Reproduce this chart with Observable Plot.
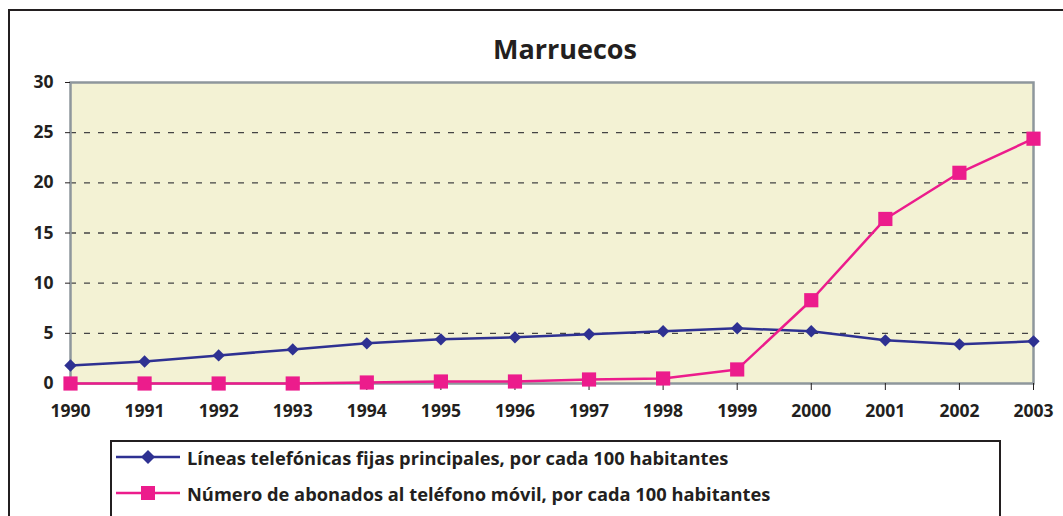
<!DOCTYPE html>
<html>
<head>
<meta charset="utf-8">
<script src="https://cdn.jsdelivr.net/npm/d3@7"></script>
<script src="https://cdn.jsdelivr.net/npm/@observablehq/plot@0.6"></script>
<style>
  html, body { margin: 0; padding: 0; background: #fff; overflow: hidden; }
  #page { position: relative; width: 1063px; height: 516px; overflow: hidden; font-family: "Open Sans", "Noto Sans", sans-serif; color: #231f20; }
  #frame { position: absolute; left: 8px; top: 9px; width: 1200px; height: 700px; border: 2px solid #231f20; box-sizing: border-box; }
  #title { position: absolute; left: 465px; width: 200px; top: 30px; text-align: center; font-weight: 700; font-size: 27px; }
  #chart { position: absolute; left: 0; top: 70px; }
  #legend { position: absolute; left: 110px; top: 440px; width: 891px; height: 78px; border: 2px solid #231f20; box-sizing: border-box; background: #fff; }
  .row { position: absolute; left: 4px; height: 30px; display: flex; align-items: center; font-weight: 700; font-size: 18.3px; white-space: nowrap; }
  .row svg { margin-right: 7px; }
</style>
</head>
<body>
<div id="page">
  <div id="frame"></div>
  <div id="title">Marruecos</div>
  <div id="chart"></div>
  <div id="legend"></div>
</div>
<script>
const years = [1990,1991,1992,1993,1994,1995,1996,1997,1998,1999,2000,2001,2002,2003];
const fijas = [1.8,2.2,2.8,3.4,4.0,4.4,4.6,4.9,5.2,5.5,5.2,4.3,3.9,4.2];
const movil = [0.0,0.0,0.0,0.0,0.1,0.2,0.2,0.4,0.5,1.4,8.3,16.4,21.0,24.4];
const seriesNames = [
  "Líneas telefónicas fijas principales, por cada 100 habitantes",
  "Número de abonados al teléfono móvil, por cada 100 habitantes"
];
const colors = ["#2e3192", "#ec1c8c"];
const yTicks = [0,5,10,15,20,25,30];

const fijasData = years.map((y,i) => ({year: y, value: fijas[i]}));
const movilData = years.map((y,i) => ({year: y, value: movil[i]}));

const plot = Plot.plot({
  width: 1063,
  height: 362,
  marginLeft: 70,
  marginRight: 30,
  marginTop: 12,
  marginBottom: 49,
  style: {fontFamily: "'Open Sans', 'Noto Sans', sans-serif", fontSize: "17.5px", fontWeight: 700, color: "#231f20", background: "transparent", overflow: "visible"},
  x: {domain: [1990, 2003], ticks: years, tickFormat: "d", label: null},
  y: {domain: [0, 30], ticks: yTicks, label: null},
  marks: [
    Plot.frame({fill: "#f3f2d4", stroke: null}),
    Plot.ruleY(yTicks.filter(d => d > 0 && d < 30), {stroke: "#444", strokeWidth: 1.4, strokeDasharray: "6,8"}),
    Plot.frame({stroke: "#8e979c", strokeWidth: 2.5}),
    Plot.axisX({ticks: years, tickFormat: "d", tickSize: 7, tickPadding: 14, stroke: "#231f20", fontWeight: 700, fontSize: 17.5}),
    Plot.axisY({ticks: yTicks, tickSize: 5, tickPadding: 12, stroke: "#231f20", fontWeight: 700, fontSize: 17.5}),
    Plot.line(fijasData, {x: "year", y: "value", stroke: colors[0], strokeWidth: 2.5}),
    Plot.line(movilData, {x: "year", y: "value", stroke: colors[1], strokeWidth: 2.5}),
    Plot.dot(fijasData, {x: "year", y: "value", symbol: "diamond2", r: 5.6, fill: colors[0], stroke: null}),
    Plot.dot(movilData, {x: "year", y: "value", symbol: "square", r: 8, fill: colors[1], stroke: null})
  ]
});
document.getElementById("chart").appendChild(plot);

const legend = document.getElementById("legend");
seriesNames.forEach((name, i) => {
  const row = document.createElement("div");
  row.className = "row";
  row.style.top = (i === 0 ? 0 : 36) + "px";
  const ns = "http://www.w3.org/2000/svg";
  const s = document.createElementNS(ns, "svg");
  s.setAttribute("width", 64); s.setAttribute("height", 20);
  const l = document.createElementNS(ns, "line");
  l.setAttribute("x1", 0); l.setAttribute("x2", 64); l.setAttribute("y1", 10); l.setAttribute("y2", 10);
  l.setAttribute("stroke", colors[i]); l.setAttribute("stroke-width", 2.5);
  s.appendChild(l);
  if (i === 0) {
    const p = document.createElementNS(ns, "path");
    p.setAttribute("d", "M32,3 L39,10 L32,17 L25,10 Z");
    p.setAttribute("fill", colors[0]);
    s.appendChild(p);
  } else {
    const r = document.createElementNS(ns, "rect");
    r.setAttribute("x", 25); r.setAttribute("y", 3); r.setAttribute("width", 14); r.setAttribute("height", 14);
    r.setAttribute("fill", colors[1]);
    s.appendChild(r);
  }
  row.appendChild(s);
  const t = document.createElement("span");
  t.textContent = name;
  row.appendChild(t);
  legend.appendChild(row);
});
</script>
</body>
</html>
